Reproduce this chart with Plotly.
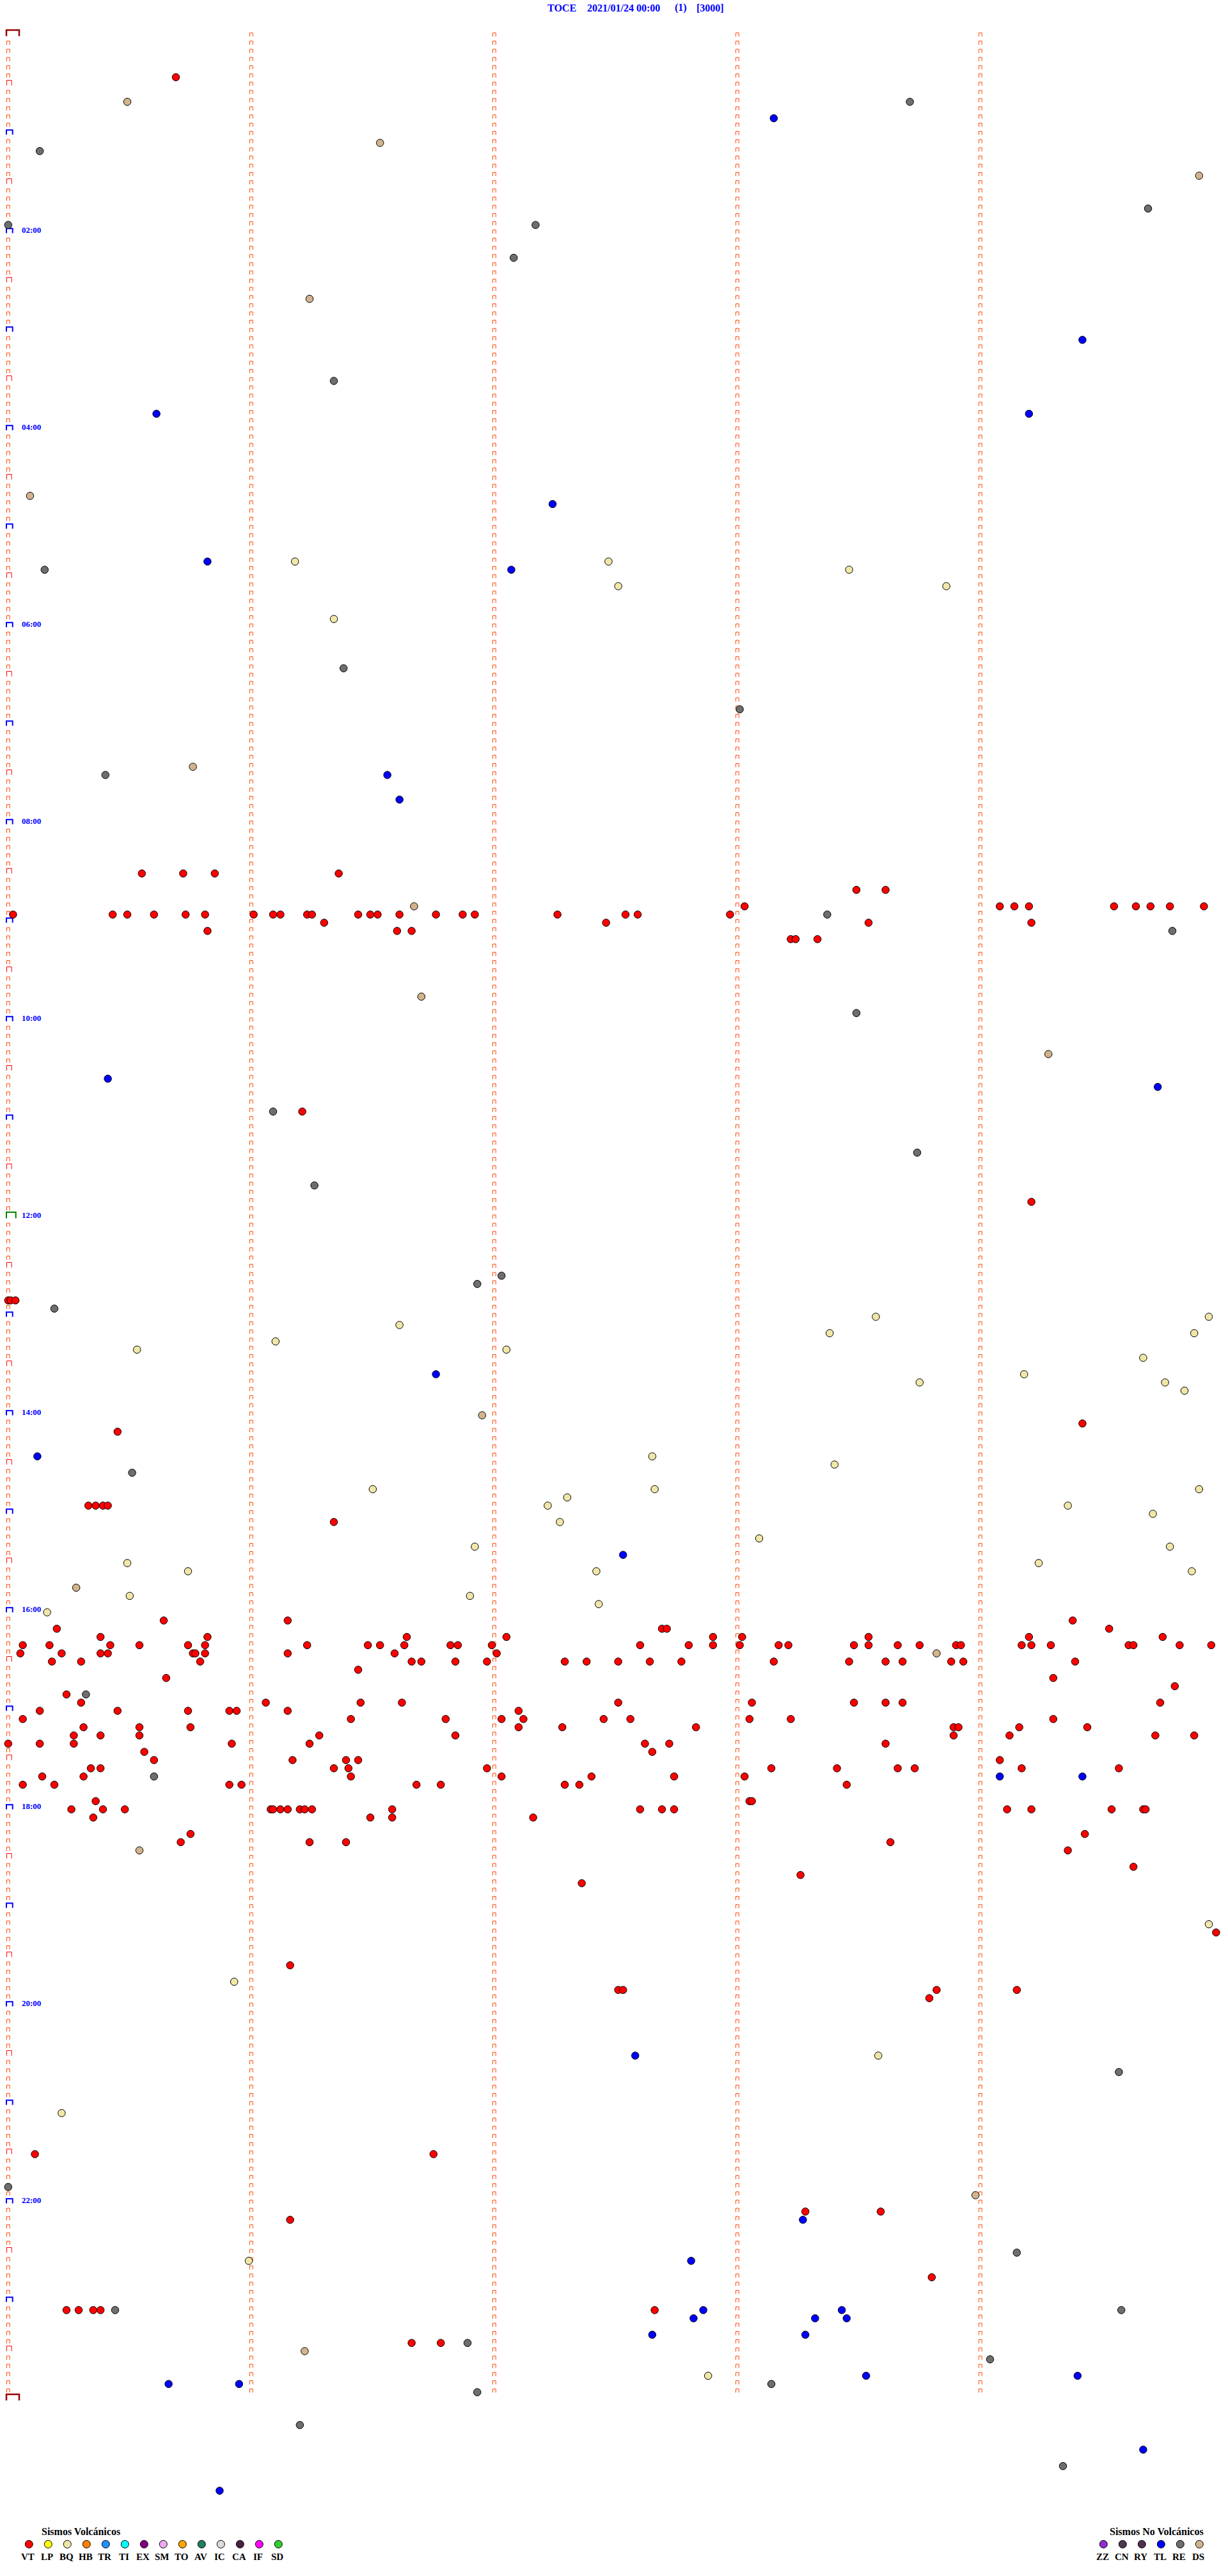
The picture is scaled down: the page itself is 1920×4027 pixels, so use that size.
import numpy as np
import plotly.graph_objects as go

# ---------------- data ----------------
STATION = "TOCE"
DATE_LABEL = "2021/01/24 00:00"
RUN_LABEL = "(1)"
SCALE_LABEL = "[3000]"

ROW_MIN = 5          # minutes per drum row
N_COLS = 5           # one column per minute inside a row
N_ROWS = 288         # 24 h
HOUR_LABELS = ["02:00", "04:00", "06:00", "08:00", "10:00", "12:00",
               "14:00", "16:00", "18:00", "20:00", "22:00"]

# event times, minutes after 00:00
VT_T = [25.69, 510.55, 510.72, 510.85, 511.36, 523.49, 523.61,
        533.03, 534.08, 534.14, 534.20, 534.55, 534.64, 534.70, 534.78, 534.92,
        535.02, 535.43, 535.49, 535.60, 535.73, 535.81, 536.01, 536.09, 536.12, 536.23,
        536.25, 536.44, 536.49, 536.52, 536.61, 536.76, 536.87, 536.92, 537.26, 537.54,
        537.59, 537.97, 541.30, 542.46, 543.54, 544.21, 545.82, 546.60, 546.66,
        553.22, 553.24, 553.33, 656.21, 714.21, 770.00, 770.01, 770.03, 849.42, 850.45,
        895.33, 895.36, 895.39, 895.41, 906.34,
        965.64, 966.15, 969.38, 970.20, 972.69, 972.71, 974.53,
        975.38, 975.82, 976.64, 977.05, 977.90, 978.02, 978.54, 979.20, 979.75,
        980.06, 980.17, 980.42, 980.54, 980.74, 980.81, 981.23, 981.48, 981.53, 981.63,
        981.82, 981.85, 981.99, 982.60, 982.80, 982.90, 983.01, 983.17, 983.21, 983.48,
        983.54, 983.66, 983.75, 983.90, 983.92, 984.17, 984.21, 984.29, 984.61, 984.63,
        984.82, 984.95,
        985.05, 985.22, 985.38, 985.41, 985.76, 985.77, 985.81, 986.15, 986.59, 987.01,
        990.18, 990.30, 990.79, 991.66, 991.70, 991.84, 991.97, 992.29, 992.38, 992.51,
        992.64, 992.77, 993.15, 993.46, 993.61, 993.68, 993.88, 993.93, 994.39,
        996.44, 1000.65, 1004.30, 1009.80, 1010.24,
        1015.30, 1016.06, 1016.45, 1016.62, 1017.51, 1018.06, 1018.48, 1018.61, 1018.68, 1019.74,
        1020.13, 1020.45, 1020.74, 1020.91, 1020.94, 1021.15, 1022.10,
        1025.06, 1026.41, 1026.80, 1027.03, 1027.12, 1027.45, 1027.56, 1028.05, 1028.22, 1029.30,
        1030.31, 1030.54, 1030.75, 1032.10, 1032.28, 1032.83, 1033.89, 1033.91, 1034.16, 1034.44,
        1035.27, 1035.38, 1035.54, 1036.28, 1036.84, 1038.89, 1039.12, 1039.72, 1039.88,
        1040.00, 1040.13, 1040.27, 1040.92, 1041.24, 1042.62, 1042.72, 1043.61,
        1045.56, 1047.65, 1050.60, 1051.17, 1051.39, 1051.44, 1054.08,
        1055.34, 1055.38, 1056.34, 1056.40, 1056.97, 1058.14, 1058.41, 1058.66, 1058.73,
        1059.17, 1059.57,
        1060.14, 1060.31, 1061.41, 1062.03, 1062.40, 1062.74, 1063.03,
        1065.06, 1065.19, 1065.91, 1065.96, 1066.68, 1066.78, 1067.29, 1067.35, 1068.45,
        1075.36, 1078.05, 1078.06,
        1080.26, 1080.39, 1080.48, 1081.08, 1081.09, 1081.12, 1081.15, 1081.20, 1081.22,
        1081.25, 1081.58, 1082.60, 1082.69, 1082.74, 1084.11, 1084.21, 1084.54, 1084.67, 1084.68,
        1085.35, 1086.49, 1086.58, 1087.16, 1095.75, 1099.43,
        1100.71, 1101.24, 1101.39, 1103.63, 1109.36, 1119.63, 1123.26, 1127.36, 1159.97,
        1176.16, 1192.51, 1192.53, 1193.82, 1194.15, 1198.79, 1290.11, 1291.75,
        1328.28, 1328.59, 1331.16, 1368.80, 1385.24, 1385.29, 1385.35, 1385.38, 1387.66,
        1406.66, 1406.78]

BQ_T = [321.18, 322.47, 328.46, 337.51, 338.86, 356.34, 783.57, 784.94, 786.61, 793.38,
        794.88, 796.10, 800.53, 802.05, 809.67, 819.18, 823.75, 824.76, 829.84, 867.65,
        873.40, 886.50, 887.66, 889.90, 892.30, 897.22, 899.36, 904.71, 907.27, 918.09,
        921.92, 924.78, 930.49, 934.24, 935.74, 937.42, 939.87, 950.50, 951.90, 957.43,
        960.16, 1154.94, 1185.93, 1233.58, 1265.22, 1355.99, 1427.88]

DS_T = [40.49, 66.53, 89.90, 161.24, 280.09, 445.76, 531.67, 586.70, 624.28, 841.95,
        945.28, 988.82, 1105.54, 1318.98, 1411.22]

RE_T = [43.71, 70.13, 109.69, 115.00, 117.17, 137.08, 211.34, 325.15, 386.38, 413.01,
        450.40, 538.37, 549.79, 598.49, 656.09, 683.74, 701.26, 757.03, 761.93, 775.19,
        875.51, 1010.32, 1060.60, 1244.57, 1310.00, 1354.15, 1385.44, 1389.58, 1406.89,
        1419.04, 1433.14, 1436.93, 1456.20, 1484.34]

TL_T = [53.15, 189.42, 230.61, 234.20, 287.24, 320.82, 327.07, 451.56, 466.61, 635.41,
        644.73, 816.76, 865.12, 927.53, 1064.08, 1064.42, 1232.58, 1333.27, 1357.81,
        1387.86, 1388.43, 1392.82, 1393.32, 1393.45, 1402.65, 1403.28, 1428.53, 1429.40,
        1430.66, 1430.95, 1474.67, 1495.87]

VOLC_CODES = ["VT", "LP", "BQ", "HB", "TR", "TI", "EX", "SM", "TO", "AV", "IC", "CA", "IF", "SD"]
VOLC_COLORS = ["#FF0000", "#FFFF00", "#F0E6A8", "#FF8000", "#1E90FF", "#00FFFF", "#800080",
               "#EEAAEE", "#FFA500", "#1E7F60", "#DCDCDC", "#4B2040", "#FF00FF", "#32CD32"]
NONVOLC_CODES = ["ZZ", "CN", "RY", "TL", "RE", "DS"]
NONVOLC_COLORS = ["#8F2FD0", "#4F3555", "#4F3050", "#0000FF", "#6E6E6E", "#D2B48C"]

EVENT_SERIES = [("VT", VT_T), ("BQ", BQ_T), ("DS", DS_T), ("RE", RE_T), ("TL", TL_T)]
COLOR_OF = dict(zip(VOLC_CODES + NONVOLC_CODES, VOLC_COLORS + NONVOLC_COLORS))

# ---------------- geometry ----------------
W, H = 1920, 4027
X0_PX = 12.8                 # pixel of minute 0
PX_PER_MIN_X = 380.0
Y0_PX = 56.5                 # pixel of row 0
PX_PER_MIN_Y = (154.0 / 12) / ROW_MIN

x_range = [-X0_PX / PX_PER_MIN_X, (W - X0_PX) / PX_PER_MIN_X]
y_range = [(H - Y0_PX) / PX_PER_MIN_Y, -Y0_PX / PX_PER_MIN_Y]


def dx(px):
    return px / PX_PER_MIN_X


def dy(px):
    return px / PX_PER_MIN_Y


SERIF = "Liberation Serif, Times New Roman, serif"
fig = go.Figure()


def bracket_trace(cells, left, right, top, bottom, color, width):
    xs, ys = [], []
    for c, r in cells:
        y0 = r * ROW_MIN
        xs += [c + dx(left), c + dx(left), c + dx(right), c + dx(right), None]
        ys += [y0 + dy(bottom), y0 + dy(top), y0 + dy(top), y0 + dy(bottom), None]
    return go.Scatter(x=xs, y=ys, mode="lines", line=dict(color=color, width=width),
                      hoverinfo="skip", showlegend=False)


small, half, hour, noon, ends = [], [], [], [], []
for r in range(N_ROWS + 1):
    if r in (0, N_ROWS):
        ends.append((0, r))
    elif r == N_ROWS // 2:
        noon.append((0, r))
    elif r % 12 == 0:
        hour.append((0, r))
    elif r % 6 == 0:
        half.append((0, r))
    else:
        small.append((0, r))
for c in range(1, N_COLS):
    for r in range(N_ROWS):
        small.append((c, r))

fig.add_trace(bracket_trace(small, -2.3, 2.4, -5.2, 0.6, "#FF4500", 1))
fig.add_trace(bracket_trace(half, -2.3, 5.4, -8.0, 0.0, "#FF0000", 1))
fig.add_trace(bracket_trace(hour, -2.8, 6.9, -7.2, 0.0, "#0000FF", 2))
fig.add_trace(bracket_trace(noon, -2.8, 11.9, -9.5, 0.0, "#008000", 2))
fig.add_trace(bracket_trace(ends, -2.8, 17.2, -9.5, 0.0, "#990000", 2.5))

# events
for code, times in EVENT_SERIES:
    t = np.asarray(times, dtype=float)
    row = np.floor(t / ROW_MIN + 1e-9)
    fig.add_trace(go.Scatter(
        x=t - row * ROW_MIN, y=row * ROW_MIN, mode="markers", name=code,
        marker=dict(size=11.5, color=COLOR_OF[code], line=dict(color="black", width=1)),
        showlegend=False))

annotations = []
for lab in HOUR_LABELS:
    hh = int(lab[:2])
    annotations.append(dict(x=dx(32 - X0_PX), y=hh * 60 + dy(-5.2), xref="x", yref="y",
                            text=f"<b>{lab}</b>", showarrow=False, xanchor="left",
                            yanchor="middle", font=dict(family=SERIF, size=13, color="#0000FF")))

# title pieces (pixel positions)
for txt, px in [(STATION, 854), (DATE_LABEL, 915.7), (RUN_LABEL, 1053.3), (SCALE_LABEL, 1087.3)]:
    annotations.append(dict(x=px / W, y=1 - 12.5 / H, xref="paper", yref="paper",
                            text=f"<b>{txt}</b>", showarrow=False, xanchor="left",
                            yanchor="middle", font=dict(family=SERIF, size=16, color="#0000FF")))

# legends (pixel space on secondary axes)
LEG_STEP = 30
legend_blocks = [("Sismos Volcánicos", 63, VOLC_CODES, VOLC_COLORS, 45.3),
                 ("Sismos No Volcánicos", 1733.3, NONVOLC_CODES, NONVOLC_COLORS, 1725.3)]
for title, tx, codes, colors, cx0 in legend_blocks:
    annotations.append(dict(x=tx / W, y=1 - 3957.5 / H, xref="paper", yref="paper",
                            text=f"<b>{title}</b>", showarrow=False, xanchor="left",
                            yanchor="middle", font=dict(family=SERIF, size=16, color="black")))
    cxs = [cx0 + i * LEG_STEP for i in range(len(codes))]
    fig.add_trace(go.Scatter(x=cxs, y=[3977.3] * len(codes), xaxis="x2", yaxis="y2",
                             mode="markers", showlegend=False, hoverinfo="skip",
                             marker=dict(size=12, color=colors, line=dict(color="black", width=1))))
    for cx, code in zip(cxs, codes):
        annotations.append(dict(x=(cx - 1.5) / W, y=1 - 3997 / H, xref="paper", yref="paper",
                                text=f"<b>{code}</b>", showarrow=False, xanchor="center",
                                yanchor="middle", font=dict(family=SERIF, size=15, color="black")))

fig.update_layout(
    width=W, height=H, autosize=False,
    margin=dict(l=0, r=0, t=0, b=0, pad=0),
    paper_bgcolor="white", plot_bgcolor="white",
    xaxis=dict(range=x_range, visible=False, fixedrange=True),
    yaxis=dict(range=y_range, visible=False, fixedrange=True),
    xaxis2=dict(range=[0, W], visible=False, overlaying="x", anchor="y2"),
    yaxis2=dict(range=[H, 0], visible=False, overlaying="y", anchor="x2"),
    annotations=annotations,
    showlegend=False,
)

fig.write_html("out.html", config={"displayModeBar": False},
               post_script="document.body.style.margin='0';document.body.style.overflow='hidden';")
